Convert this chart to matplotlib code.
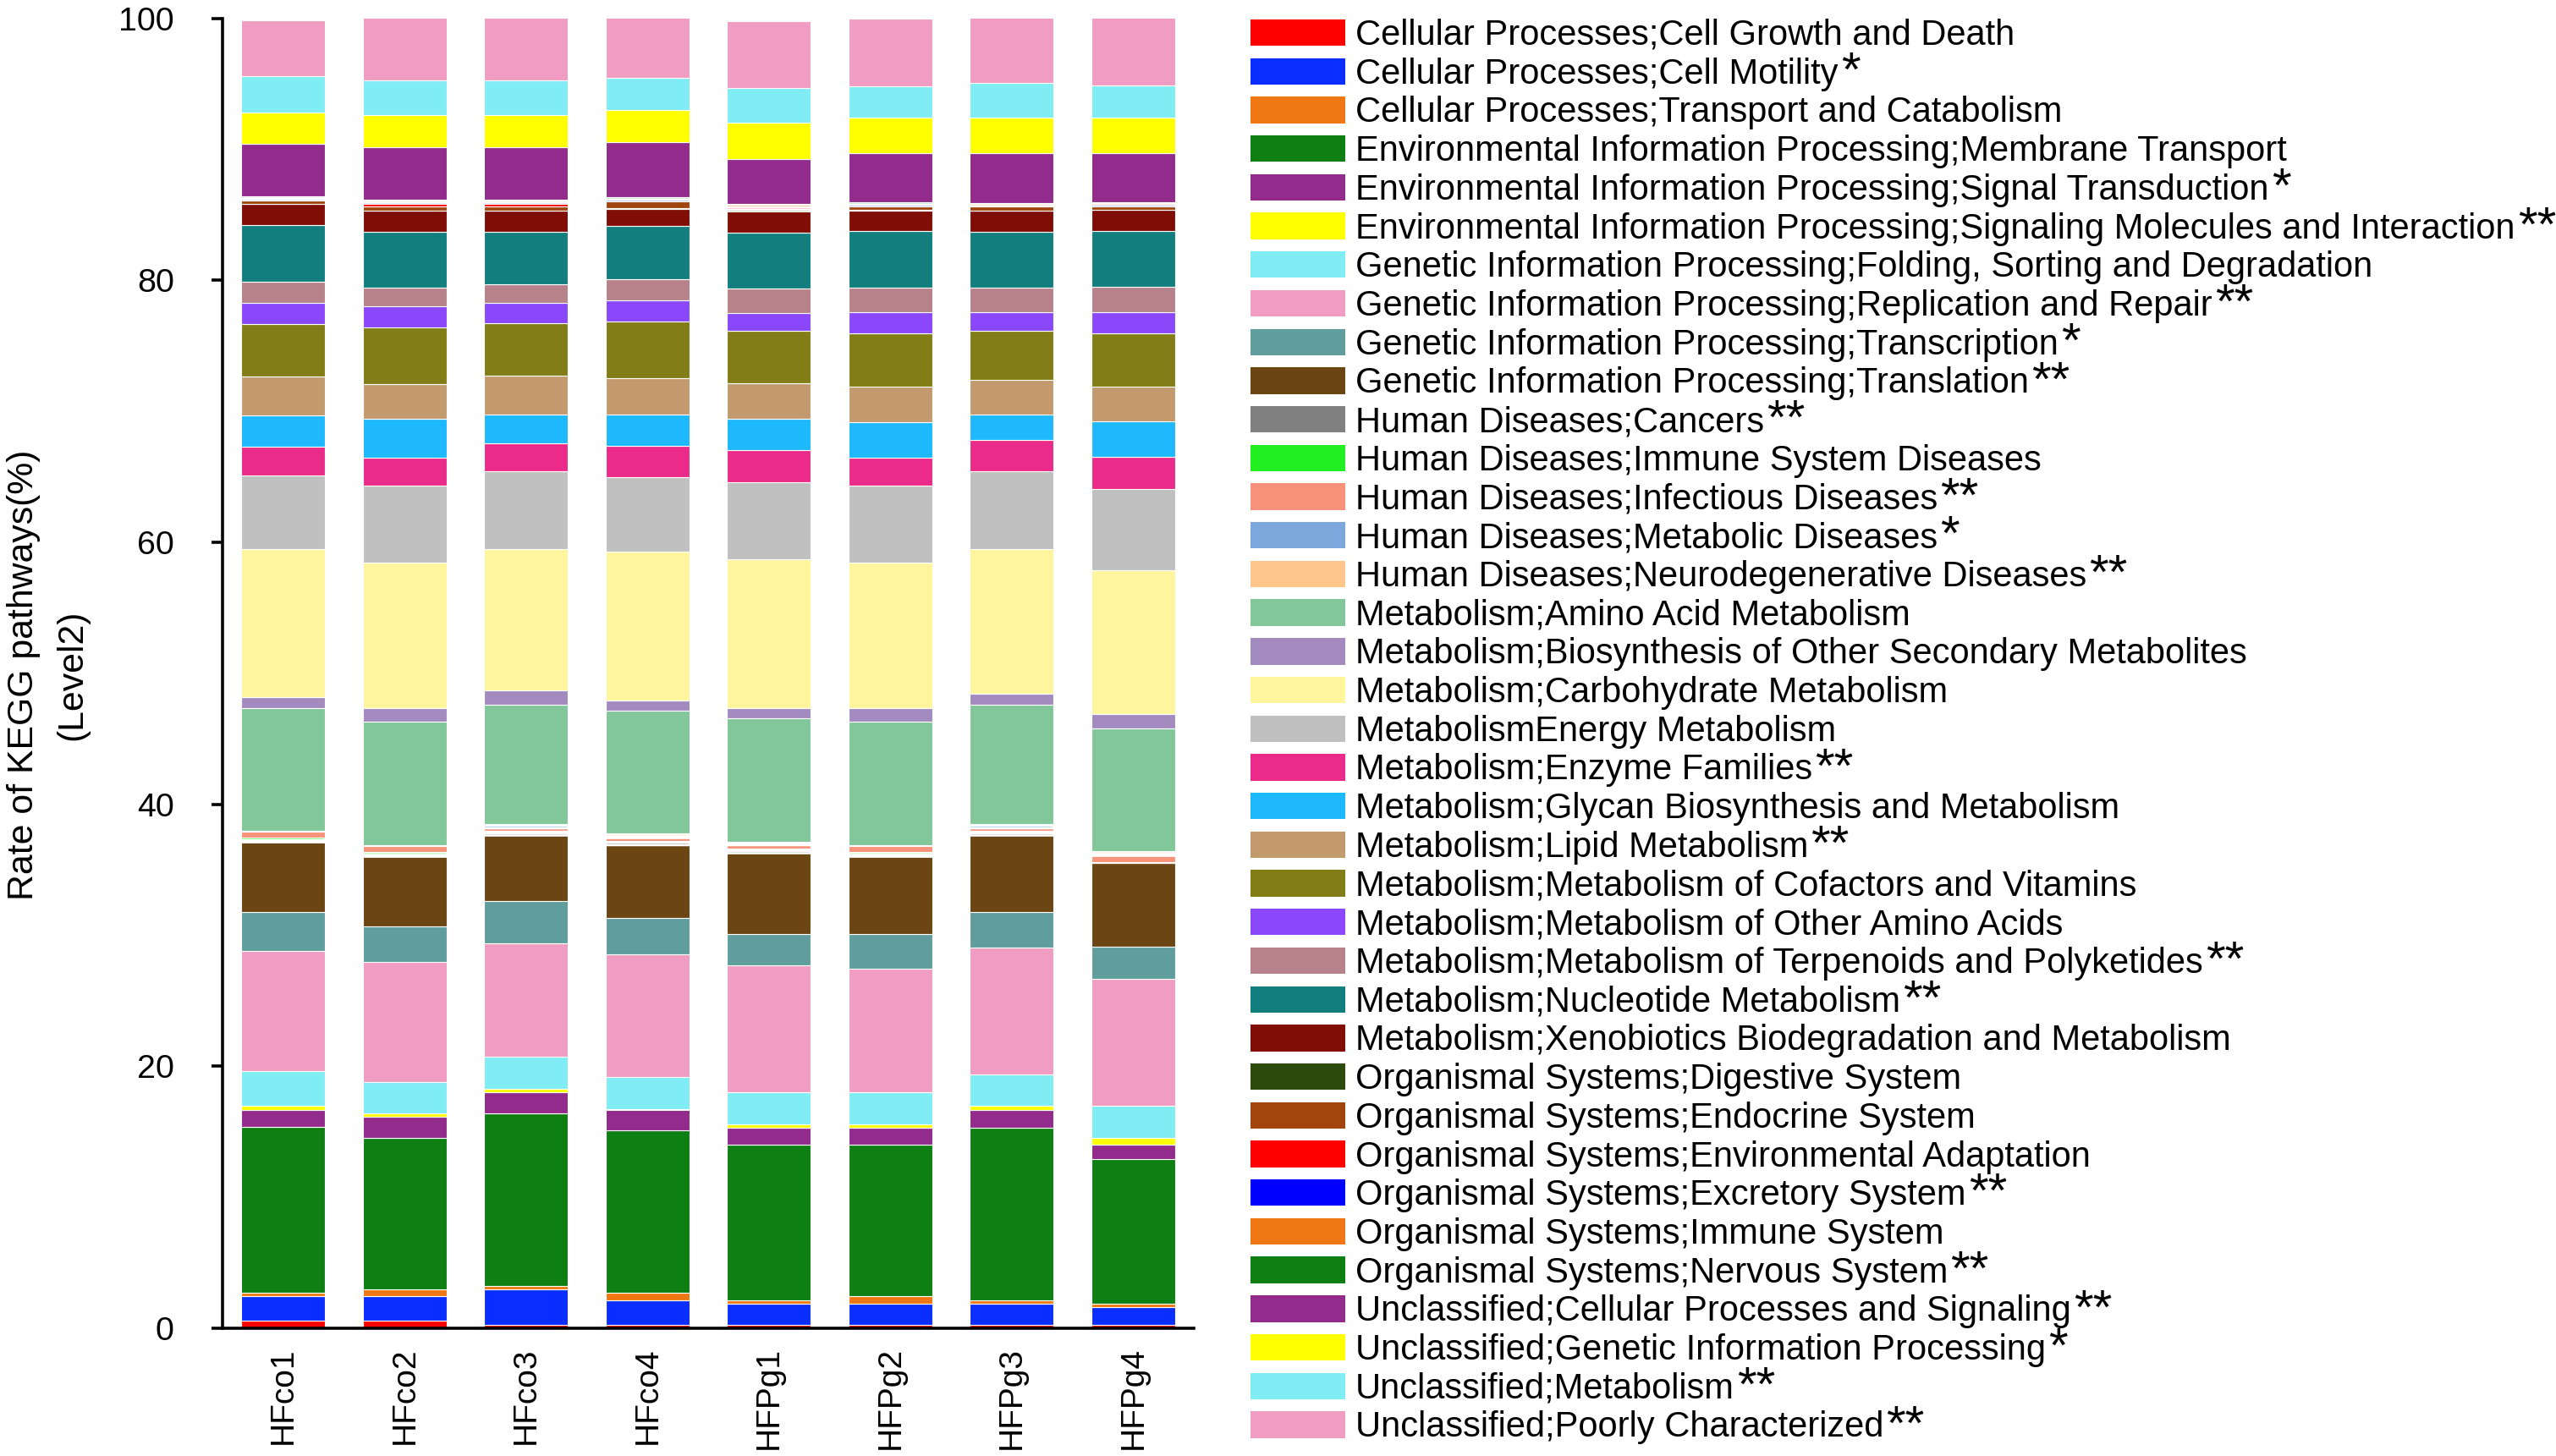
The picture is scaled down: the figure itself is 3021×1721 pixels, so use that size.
import numpy as np
import matplotlib.pyplot as plt
from matplotlib.patches import Patch
from matplotlib.transforms import IdentityTransform

plt.rcParams['font.family'] = ['Liberation Sans', 'DejaVu Sans']

samples = ['HFco1', 'HFco2', 'HFco3', 'HFco4', 'HFPg1', 'HFPg2', 'HFPg3', 'HFPg4']

pathways = [
    'Cellular Processes;Cell Growth and Death',
    'Cellular Processes;Cell Motility',
    'Cellular Processes;Transport and Catabolism',
    'Environmental Information Processing;Membrane Transport',
    'Environmental Information Processing;Signal Transduction',
    'Environmental Information Processing;Signaling Molecules and Interaction',
    'Genetic Information Processing;Folding, Sorting and Degradation',
    'Genetic Information Processing;Replication and Repair',
    'Genetic Information Processing;Transcription',
    'Genetic Information Processing;Translation',
    'Human Diseases;Cancers',
    'Human Diseases;Immune System Diseases',
    'Human Diseases;Infectious Diseases',
    'Human Diseases;Metabolic Diseases',
    'Human Diseases;Neurodegenerative Diseases',
    'Metabolism;Amino Acid Metabolism',
    'Metabolism;Biosynthesis of Other Secondary Metabolites',
    'Metabolism;Carbohydrate Metabolism',
    'MetabolismEnergy Metabolism',
    'Metabolism;Enzyme Families',
    'Metabolism;Glycan Biosynthesis and Metabolism',
    'Metabolism;Lipid Metabolism',
    'Metabolism;Metabolism of Cofactors and Vitamins',
    'Metabolism;Metabolism of Other Amino Acids',
    'Metabolism;Metabolism of Terpenoids and Polyketides',
    'Metabolism;Nucleotide Metabolism',
    'Metabolism;Xenobiotics Biodegradation and Metabolism',
    'Organismal Systems;Digestive System',
    'Organismal Systems;Endocrine System',
    'Organismal Systems;Environmental Adaptation',
    'Organismal Systems;Excretory System',
    'Organismal Systems;Immune System',
    'Organismal Systems;Nervous System',
    'Unclassified;Cellular Processes and Signaling',
    'Unclassified;Genetic Information Processing',
    'Unclassified;Metabolism',
    'Unclassified;Poorly Characterized',
]

# significance marks shown next to the legend labels
stars = ['', '*', '', '', '*', '**', '', '**', '*', '**',
         '**', '', '**', '*', '**', '', '', '', '', '**',
         '', '**', '', '', '**', '**', '', '', '', '',
         '**', '', '**', '**', '*', '**', '**']

colors = ['#FF0000', '#0A2EFF', '#F07814', '#0E7F12', '#922B8C', '#FFFF00',
          '#80ECF4', '#F19CC2', '#5F9E9D', '#6B4512', '#808080', '#22EE22',
          '#F7937A', '#7BA7DC', '#FFC58A', '#82C79A', '#A38BC0', '#FFF59D',
          '#C0C0C0', '#EB2B8A', '#1EB8FC', '#C39A6D', '#827D16', '#8B47FA',
          '#B8828B', '#127F7E', '#800D06', '#2C4A0C', '#A0450E', '#FF0000',
          '#0000FF', '#F07814', '#0E7F12', '#922B8C', '#FFFF00', '#80ECF4',
          '#F19CC2']

# relative abundance (%) per sample, in legend order
HFco1 = [0.58, 1.85, 0.26, 12.66, 1.33, 0.28, 2.71, 9.13, 2.95, 5.38, 0.17, 0.15, 0.47, 0.03, 0.03,
         9.37, 0.82, 11.30, 5.64, 2.17, 2.43, 2.97, 4.00, 1.61, 1.61, 4.35, 1.57,
         0.02, 0.24, 0.02, 0.11, 0.11, 0.11, 3.98, 2.43, 2.74, 4.27]
HFco2 = [0.58, 1.85, 0.54, 11.56, 1.61, 0.28, 2.41, 9.15, 2.71, 5.34, 0.17, 0.16, 0.47, 0.01, 0.01,
         9.43, 1.07, 11.09, 5.88, 2.15, 2.97, 2.67, 4.30, 1.64, 1.36, 4.28, 1.64,
         0.02, 0.28, 0.23, 0.11, 0.11, 0.10, 3.98, 2.43, 2.69, 4.76]
HFco3 = [0.28, 2.69, 0.26, 13.20, 1.61, 0.26, 2.43, 8.64, 3.23, 5.06, 0.16, 0.16, 0.21, 0.15, 0.15,
         9.13, 1.10, 10.77, 5.94, 2.13, 2.17, 2.97, 4.00, 1.61, 1.36, 4.02, 1.64,
         0.02, 0.28, 0.23, 0.11, 0.11, 0.10, 3.98, 2.43, 2.69, 4.76]
HFco4 = [0.28, 1.87, 0.54, 12.40, 1.59, 0.05, 2.43, 9.41, 2.73, 5.60, 0.15, 0.15, 0.24, 0.16, 0.16,
         9.41, 0.75, 11.35, 5.68, 2.39, 2.43, 2.78, 4.30, 1.61, 1.61, 4.07, 1.33,
         0.02, 0.52, 0.02, 0.10, 0.10, 0.10, 4.24, 2.43, 2.43, 4.76]
HFPg1 = [0.28, 1.61, 0.26, 11.84, 1.33, 0.28, 2.45, 9.69, 2.39, 6.18, 0.16, 0.16, 0.24, 0.15, 0.15,
         9.39, 0.78, 11.35, 5.92, 2.41, 2.43, 2.67, 4.00, 1.36, 1.90, 4.28, 1.61,
         0.10, 0.10, 0.10, 0.10, 0.09, 0.09, 3.42, 2.76, 2.65, 5.13]
HFPg2 = [0.28, 1.61, 0.54, 11.56, 1.33, 0.28, 2.45, 9.43, 2.65, 5.90, 0.17, 0.17, 0.47, 0.01, 0.01,
         9.43, 1.07, 11.07, 5.90, 2.15, 2.71, 2.67, 4.09, 1.61, 1.90, 4.28, 1.61,
         0.02, 0.26, 0.02, 0.10, 0.10, 0.10, 3.75, 2.71, 2.42, 5.12]
HFPg3 = [0.28, 1.61, 0.26, 13.18, 1.36, 0.28, 2.43, 9.69, 2.67, 5.90, 0.16, 0.16, 0.21, 0.15, 0.15,
         9.13, 0.82, 11.05, 5.94, 2.39, 1.92, 2.67, 3.77, 1.36, 1.90, 4.28, 1.61,
         0.02, 0.26, 0.02, 0.10, 0.10, 0.10, 3.75, 2.76, 2.65, 5.13]
HFPg4 = [0.28, 1.34, 0.28, 11.03, 1.08, 0.54, 2.43, 9.69, 2.43, 6.44, 0.01, 0.01, 0.52, 0.17, 0.17,
         9.39, 1.07, 11.00, 6.19, 2.43, 2.71, 2.67, 4.09, 1.61, 1.90, 4.28, 1.61,
         0.02, 0.26, 0.02, 0.10, 0.10, 0.10, 3.75, 2.71, 2.42, 5.31]

data = np.array([HFco1, HFco2, HFco3, HFco4, HFPg1, HFPg2, HFPg3, HFPg4]).T  # pathways x samples

dpi = 200
fig = plt.figure(figsize=(3021 / dpi, 1721 / dpi), dpi=dpi)
ax = fig.add_axes([0.0871, 0.0877, 0.380, 0.8997])

x = np.arange(len(samples))

# points per 1% on the y axis, used so the tiny slices come out as white gaps
ax_height_pt = 0.8997 * 1721 / dpi * 72
pt_per_unit = ax_height_pt / 100.0

bottom = np.zeros(len(samples))
for i, name in enumerate(pathways):
    vals = data[i]
    lw = np.where((vals >= 0.05) & (vals < 0.2), vals * pt_per_unit * 1.05, 0.4)
    ax.bar(x, vals, width=0.69, bottom=bottom, color=colors[i],
           edgecolor='white', linewidth=lw)
    bottom += vals

ax.set_xlim(-0.5, 7.5)
ax.set_ylim(0, 100)
ax.set_yticks(np.arange(0, 101, 20))
ax.set_xticks(x)
ax.set_xticklabels(samples, rotation=90, fontsize=14)
ax.tick_params(axis='x', length=0, pad=8)
ax.tick_params(axis='y', direction='out', length=4.7, width=1.3, pad=16, labelsize=14.2)

ax.spines[['right', 'top']].set_visible(False)
ax.spines['left'].set_linewidth(1.3)
ax.spines['bottom'].set_linewidth(1.3)

fig.text(0.0189, 0.5366, 'Rate of KEGG pathways(%)\n(Level2)', rotation=90,
         ha='center', va='center', multialignment='center',
         fontsize=15.4, linespacing=1.56)

handles = [Patch(facecolor=c, edgecolor='none') for c in colors]
leg = fig.legend(handles, pathways, loc='upper left',
                 bbox_to_anchor=(1478 / 3021, 1 - 22 / 1721),
                 frameon=False, fontsize=15, handlelength=2.69, handleheight=0.78,
                 handletextpad=0.29, labelspacing=0.137, borderpad=0, borderaxespad=0)

# raised asterisks after the legend labels
fig.canvas.draw()
renderer = fig.canvas.get_renderer()
for txt, mark in zip(leg.get_texts(), stars):
    if not mark:
        continue
    bb = txt.get_window_extent(renderer)
    _, _, descent = renderer.get_text_width_height_descent('lp', txt.get_fontproperties(), ismath=False)
    baseline = bb.y0 + descent
    fig.text(bb.x1 + 3, baseline - 3, mark, transform=IdentityTransform(),
             ha='left', va='baseline', fontsize=21)

fig.savefig('out.png', dpi=dpi)
